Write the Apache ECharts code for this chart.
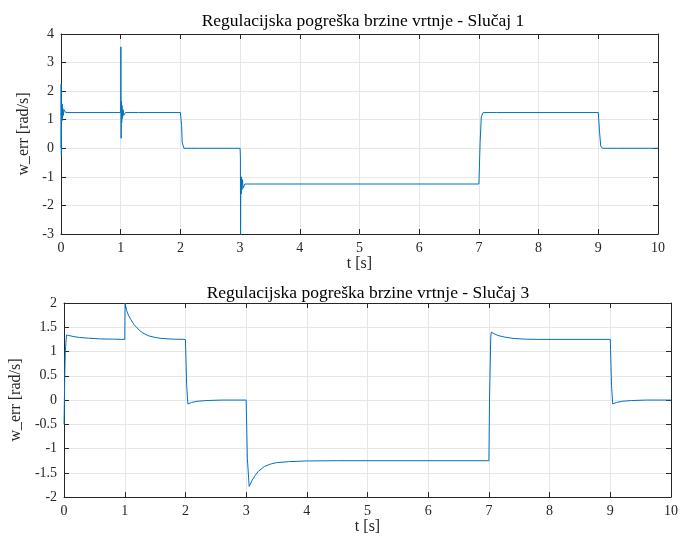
<!DOCTYPE html>
<html>
<head>
<meta charset="utf-8">
<title>Regulacijska pogreška brzine vrtnje</title>
<script src="https://cdn.jsdelivr.net/npm/echarts@6/dist/echarts.min.js"></script>
<style>
  html, body { margin: 0; padding: 0; background: #fff; }
  #chart { width: 681px; height: 536px; }
</style>
</head>
<body>
<div id="chart"></div>
<script>
// Slučaj 1 - vrijeme [s] i pogreška [rad/s]
var time1 = [0, 0.002, 0.006, 0.01, 0.015, 0.02, 0.025, 0.03, 0.04, 0.05, 0.08, 0.3,
  1.0, 1.003, 1.007, 1.012, 1.017, 1.022, 1.03, 1.04, 1.05, 1.08, 1.3,
  2.0, 2.02, 2.03, 2.06, 2.3,
  3.0, 3.005, 3.008, 3.012, 3.018, 3.024, 3.03, 3.04, 3.05, 3.08, 3.3,
  7.0, 7.02, 7.04, 7.07, 7.3,
  9.0, 9.02, 9.04, 9.07, 9.3, 10];
var err1 = [0, 2.25, -0.25, 1.6, 0.95, 1.55, 1.05, 1.4, 1.15, 1.35, 1.25, 1.25,
  1.25, 3.55, 0.35, 1.65, 0.9, 1.5, 1.05, 1.35, 1.15, 1.25, 1.25,
  1.25, 0.8, 0.2, 0, 0,
  0, -0.3, -3.1, -1.0, -1.6, -1.0, -1.45, -1.1, -1.4, -1.25, -1.25,
  -1.25, 0.2, 1.1, 1.25, 1.25,
  1.25, 0.6, 0.08, 0, 0, 0];

// Slučaj 3
var time3 = [0, 0.01, 0.02, 0.04, 0.08, 0.15, 0.25, 0.4, 0.6, 0.8,
  1.0, 1.005, 1.03, 1.06, 1.1, 1.15, 1.2, 1.25, 1.3, 1.4, 1.5, 1.6, 1.8,
  2.0, 2.02, 2.04, 2.1, 2.2, 2.35, 2.6,
  3.0, 3.02, 3.05, 3.1, 3.15, 3.2, 3.3, 3.4, 3.5, 3.7, 4.0, 4.5,
  7.0, 7.01, 7.03, 7.04, 7.08, 7.15, 7.25, 7.4, 7.6, 7.8,
  9.0, 9.02, 9.04, 9.1, 9.2, 9.35, 9.6, 10];
var err3 = [-0.5, 0.4, 1.0, 1.34, 1.33, 1.31, 1.29, 1.275, 1.26, 1.255,
  1.25, 2.0, 1.85, 1.75, 1.66, 1.56, 1.49, 1.43, 1.38, 1.32, 1.29, 1.27, 1.255,
  1.25, 0.3, -0.08, -0.05, -0.025, -0.01, 0,
  0, -1.2, -1.78, -1.65, -1.55, -1.47, -1.37, -1.32, -1.29, -1.27, -1.255, -1.25,
  -1.25, 0.0, 1.3, 1.4, 1.37, 1.33, 1.3, 1.27, 1.255, 1.25,
  1.25, 0.3, -0.08, -0.05, -0.025, -0.01, 0, 0];

var titles = ['Regulacijska pogreška brzine vrtnje - Slučaj 1',
              'Regulacijska pogreška brzine vrtnje - Slučaj 3'];

function pairs(t, v) {
  return t.map(function (x, i) { return [x, v[i]]; });
}

var font = '"Liberation Serif", "DejaVu Serif", serif';
var txt = '#262626';
var gridCol = '#e6e6e6';

var chart = echarts.init(document.getElementById('chart'));

function xAxisFor(gi, top, gap) {
  return {
    type: 'value', gridIndex: gi, min: 0, max: 10, interval: 1,
    position: top ? 'top' : 'bottom',
    name: top ? '' : 't [s]', nameLocation: 'middle', nameGap: gap,
    nameTextStyle: { fontFamily: font, fontSize: 16, color: txt },
    axisLine: { show: true, onZero: false, lineStyle: { color: txt, width: 1 } },
    axisTick: { show: true, inside: true, length: 5, lineStyle: { color: txt } },
    axisLabel: { show: !top, fontFamily: font, fontSize: 14, color: txt, margin: 7 },
    splitLine: { show: !top, lineStyle: { color: gridCol, width: 1 } }
  };
}

function yAxisFor(gi, right, min, max, step, gap) {
  return {
    type: 'value', gridIndex: gi, min: min, max: max, interval: step,
    position: right ? 'right' : 'left',
    name: right ? '' : 'w_err [rad/s]', nameLocation: 'middle', nameGap: gap,
    nameTextStyle: { fontFamily: font, fontSize: 16, color: txt },
    axisLine: { show: true, onZero: false, lineStyle: { color: txt, width: 1 } },
    axisTick: { show: true, inside: true, length: 5, lineStyle: { color: txt } },
    axisLabel: { show: !right, fontFamily: font, fontSize: 14, color: txt, margin: 7 },
    splitLine: { show: !right, lineStyle: { color: gridCol, width: 1 } }
  };
}

var option = {
  backgroundColor: '#ffffff',
  animation: false,
  title: [
    { text: titles[0], left: 358, top: 7, textAlign: 'center',
      textStyle: { fontFamily: font, fontSize: 17.5, fontWeight: 'normal', color: '#000' } },
    { text: titles[1], left: 363, top: 279, textAlign: 'center',
      textStyle: { fontFamily: font, fontSize: 17.5, fontWeight: 'normal', color: '#000' } }
  ],
  grid: [
    { left: 61, right: 23, top: 34, height: 200 },
    { left: 57, right: 7, top: 303, height: 196 }
  ],
  xAxis: [xAxisFor(0, false, 22), xAxisFor(0, true, 0), xAxisFor(1, false, 19), xAxisFor(1, true, 0)],
  yAxis: [
    yAxisFor(0, false, -3, 4, 1, 24),
    yAxisFor(0, true, -3, 4, 1, 0),
    yAxisFor(1, false, -2, 2, 0.5, 23),
    yAxisFor(1, true, -2, 2, 0.5, 0)
  ],
  series: [
    { type: 'line', xAxisIndex: 0, yAxisIndex: 0, data: pairs(time1, err1),
      showSymbol: false, clip: true,
      lineStyle: { color: '#0072BD', width: 1 } },
    { type: 'line', xAxisIndex: 2, yAxisIndex: 2, data: pairs(time3, err3),
      showSymbol: false, clip: true,
      lineStyle: { color: '#0072BD', width: 1 } }
  ]
};

chart.setOption(option);
</script>
</body>
</html>
